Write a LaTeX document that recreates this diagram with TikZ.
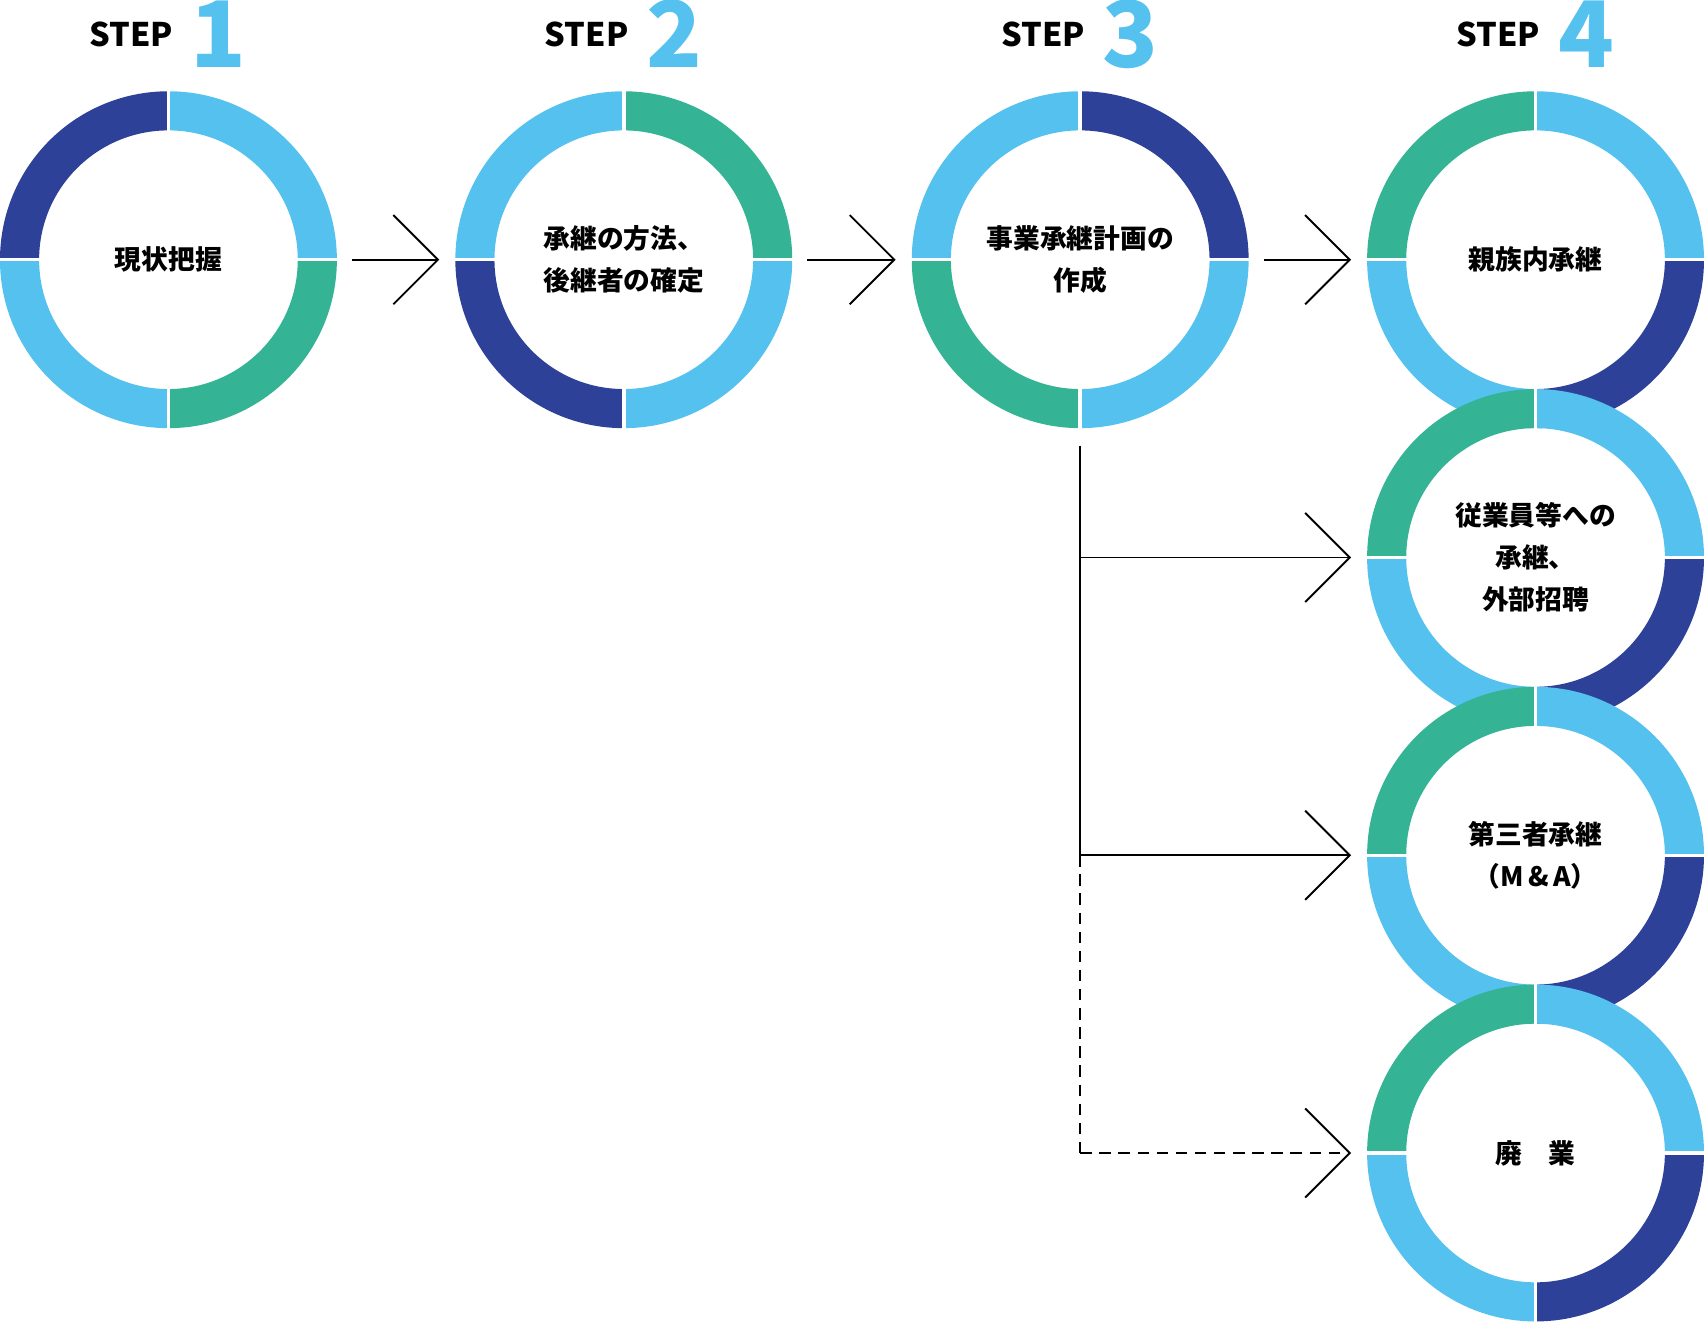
\documentclass[tikz,border=0pt]{standalone}
\usepackage{fontspec}
\setmainfont{Noto Sans CJK JP}
\usetikzlibrary{arrows.meta, positioning}
\definecolor{ltblue}{HTML}{55C1EF}
\definecolor{green}{HTML}{35B495}
\definecolor{navy}{HTML}{2E4198}

% ring of four coloured quarters: name, TL, TR, BR, BL
\newcommand{\stepring}[5]{%
  \foreach \a/\c in {180/#2,270/#3,0/#4,90/#5}{
    \fill[\c] ([shift={(\a:155)}]#1.center) arc[start angle=\a,end angle=\a+90,radius=155]
      -- ([shift={(\a+90:119)}]#1.center) arc[start angle=\a+90,end angle=\a,radius=119] -- cycle;
  }
  \draw[gap] ([shift={(0,-157)}]#1.center) -- ([shift={(0,157)}]#1.center);
  \draw[gap] ([shift={(-157,0)}]#1.center) -- ([shift={(157,0)}]#1.center);
}

\begin{document}
\begin{tikzpicture}[
        x = 0.01cm, y = -0.01cm,
        gap/.style = {white, line width = 0.9pt},
        stage/.style = {circle, minimum size = 3.1cm, inner sep = 0pt},
        caption/.style = {font = \bfseries\fontsize{7}{11}\selectfont, align = center},
        steptext/.style = {font = \bfseries\fontsize{8.5}{10}\selectfont, anchor = base east, inner sep = 0pt},
        stepnum/.style = {font = \bfseries\fontsize{24}{26}\selectfont, text = ltblue, anchor = base west, inner sep = 0pt},
        go/.style = {-{Straight Barb[length=0.41cm, width=0.82cm]}, line width = 0.5pt}
    ]
    \useasboundingbox (0,0) rectangle (1568,1216);

    \node[stage] (s1) at (155,239) {};
    \node[stage] (s2) at (574,239) {};
    \node[stage] (s3) at (994,239) {};
    \node[stage] (s4a) at (1413,239) {};
    \node[stage] (s4b) at (1413,513) {};
    \node[stage] (s4c) at (1413,787) {};
    \node[stage] (s4d) at (1413,1061) {};

    \stepring{s1}{navy}{ltblue}{green}{ltblue}
    \stepring{s2}{ltblue}{green}{ltblue}{navy}
    \stepring{s3}{ltblue}{navy}{ltblue}{green}
    \stepring{s4a}{green}{ltblue}{navy}{ltblue}
    \stepring{s4b}{green}{ltblue}{navy}{ltblue}
    \stepring{s4c}{green}{ltblue}{navy}{ltblue}
    \stepring{s4d}{green}{ltblue}{navy}{ltblue}

    % texts
    \node[caption] at (s1) {現状把握};
    \node[caption] at (s2) {承継の方法、\\後継者の確定};
    \node[caption] at (s3) {事業承継計画の\\作成};
    \node[caption] at (s4a) {親族内承継};
    \node[caption] at (s4b) {従業員等への\\承継、\\外部招聘};
    \node[caption] at (s4c) {第三者承継\\（M\,\&\,A）};
    \node[caption] at (s4d) {廃　業};

    % step titles
    \foreach \s/\n in {s1/1,s2/2,s3/3,s4a/4}{
        \node[steptext] at ([shift={(5,-196)}]\s.center) {STEP};
        \node[stepnum] at ([shift={(20,-177)}]\s.center) {\n};
    }

    % connectors
    \draw[go] ([shift={(13,0)}]s1.east) -- ([shift={(-14,0)}]s2.west);
    \draw[go] ([shift={(13,0)}]s2.east) -- ([shift={(-14,0)}]s3.west);
    \draw[go] ([shift={(13,0)}]s3.east) -- ([shift={(-14,0)}]s4a.west);
    \coordinate (b0) at (994,410);
    \coordinate (b1) at (s3.center |- s4b.center);
    \coordinate (b2) at (s3.center |- s4c.center);
    \coordinate (b3) at (s3.center |- s4d.center);
    \draw[line width=0.5pt] (b0) -- (b2);
    \draw[line width=0.5pt, densely dashed] (b2) -- (b3);
    \draw[go] (b1) -- ([shift={(-14,0)}]s4b.west);
    \draw[go] (b2) -- ([shift={(-14,0)}]s4c.west);
    \draw[go, densely dashed] (b3) -- ([shift={(-14,0)}]s4d.west);
\end{tikzpicture}
\end{document}
